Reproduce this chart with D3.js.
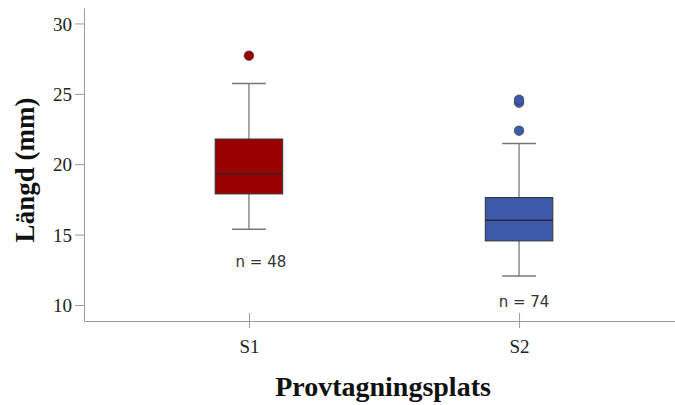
<!DOCTYPE html>
<html>
<head>
<meta charset="utf-8">
<script src="https://cdn.jsdelivr.net/npm/d3@7"></script>
<style>
  body { margin: 0; background: #fff; }
</style>
</head>
<body>
<div id="container"></div>
<script>
/* CONSTANTS AND GLOBALS */
const width = 675;
const height = 405;

// DATA: one entry per sampling site
const sites = ["S1", "S2"];
const q1 = [17.89, 14.55];
const medians = [19.32, 16.02];
const q3 = [21.79, 17.63];
const whiskerLow = [15.38, 12.06];
const whiskerHigh = [25.74, 21.47];
const outliers = [[27.71], [22.38, 24.37, 24.58]];
const counts = [48, 74];
const countLabelAt = [13.06, 10.2];
const yTicks = [10, 15, 20, 25, 30];
const colors = ["#990000", "#3e59aa"];

const boxes = sites.map((s, i) => ({
    site: s, q1: q1[i], median: medians[i], q3: q3[i],
    lo: whiskerLow[i], hi: whiskerHigh[i], out: outliers[i],
    n: counts[i], labelAt: countLabelAt[i], color: colors[i]
}));

const svg = d3.select("#container")
    .append("svg")
    .attr("width", width)
    .attr("height", height);

/* SCALES */
const xScale = d3.scalePoint()
    .domain(sites)
    .range([84, 675])
    .padding(0.594)
    .align(0.514);

const yScale = d3.scaleLinear()
    .domain([8.86, 31.1])
    .range([321, 8]);

const step = xScale.step();
const boxW = step * 0.25;
const capW = boxW / 2;

// shared styling for both axes
function styleAxis(sel) {
    sel.select(".domain").attr("stroke", "#9a9a9a");
    sel.selectAll(".tick line").attr("stroke", "#9a9a9a");
    sel.selectAll(".tick text")
        .style("font-family", "'Liberation Serif', serif")
        .style("font-size", "19px")
        .style("fill", "#222");
}

/* AXES */
svg.append("g")
    .attr("class", "axis")
    .attr("transform", "translate(84,0)")
    .call(d3.axisLeft(yScale).tickValues(yTicks).tickSize(9).tickSizeOuter(0).tickPadding(3))
    .call(styleAxis)
    .call(g => g.selectAll(".tick text").attr("dy", "0.35em"));

svg.append("g")
    .attr("class", "axis")
    .attr("transform", "translate(0,321)")
    .call(d3.axisBottom(xScale).tickSize(7).tickSizeOuter(0).tickPadding(12))
    .call(styleAxis)
    .call(g => g.selectAll(".tick line").attr("y1", -8));

/* BOXES */
const g = svg.selectAll("g.box")
    .data(boxes)
    .join("g")
    .attr("class", "box")
    .attr("transform", d => `translate(${xScale(d.site)},0)`);

// whiskers
g.append("line")
    .attr("x1", 0).attr("x2", 0)
    .attr("y1", d => yScale(d.hi))
    .attr("y2", d => yScale(d.lo))
    .attr("stroke", "#555");

g.selectAll("line.cap")
    .data(d => [d.lo, d.hi])
    .join("line")
    .attr("class", "cap")
    .attr("x1", -capW / 2).attr("x2", capW / 2)
    .attr("y1", v => yScale(v)).attr("y2", v => yScale(v))
    .attr("stroke", "#777")
    .attr("stroke-width", 1.5);

g.append("rect")
    .attr("x", -boxW / 2)
    .attr("width", boxW)
    .attr("y", d => yScale(d.q3))
    .attr("height", d => yScale(d.q1) - yScale(d.q3))
    .attr("fill", d => d.color)
    .attr("stroke", "#333")
    .attr("stroke-width", 1);

g.append("line")
    .attr("x1", -boxW / 2).attr("x2", boxW / 2)
    .attr("y1", d => yScale(d.median))
    .attr("y2", d => yScale(d.median))
    .attr("stroke", "#2a2a2a")
    .attr("stroke-width", 1.3);

// outliers
g.selectAll("circle")
    .data(d => d.out.map(v => ({ v, color: d.color })))
    .join("circle")
    .attr("cx", 0)
    .attr("cy", d => yScale(d.v))
    .attr("r", 4.8)
    .attr("fill", d => d.color)
    .attr("stroke", "#333")
    .attr("stroke-width", 0.6);

// n labels
g.append("text")
    .attr("x", (d, i) => i === 0 ? 12 : 5)
    .attr("y", d => yScale(d.labelAt))
    .attr("dy", "0.35em")
    .attr("text-anchor", "middle")
    .style("font-family", "'DejaVu Sans', sans-serif")
    .style("font-size", "15px")
    .style("fill", "#333")
    .text(d => "n = " + d.n);

/* LABELS */
svg.append("text")
    .attr("x", 383)
    .attr("y", 396)
    .attr("text-anchor", "middle")
    .style("font-family", "'Liberation Serif', serif")
    .style("font-weight", "bold")
    .style("font-size", "28px")
    .style("fill", "#111")
    .text("Provtagningsplats");

svg.append("text")
    .attr("transform", "translate(34,170) rotate(-90)")
    .attr("text-anchor", "middle")
    .style("font-family", "'Liberation Serif', serif")
    .style("font-weight", "bold")
    .style("font-size", "27px")
    .style("fill", "#111")
    .text("Längd (mm)");
</script>
</body>
</html>
